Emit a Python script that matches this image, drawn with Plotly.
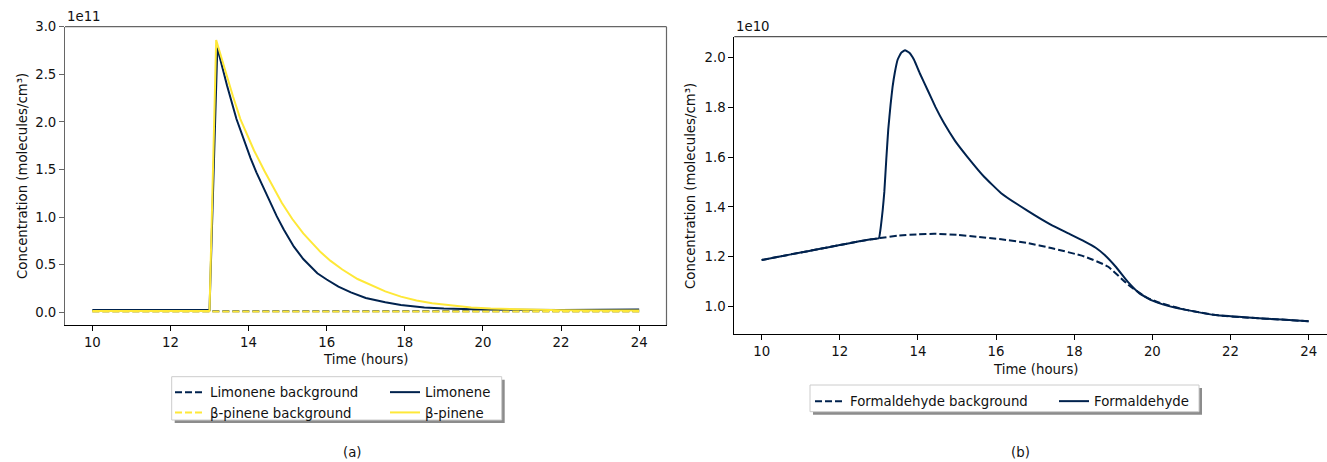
import plotly.graph_objects as go

# ---------------- data (panel a: units of 1e11 molecules/cm3) ----------------
time_bg_a = [10, 12, 14, 16, 18, 20, 22, 24]
limonene_bg = [0.012, 0.012, 0.012, 0.012, 0.012, 0.012, 0.012, 0.012]
bpinene_bg = [0.010, 0.010, 0.010, 0.010, 0.010, 0.010, 0.010, 0.010]

time_lim = [10, 13.0, 13.2, 13.45, 13.69, 13.9, 14.05, 14.2, 14.39, 14.55, 14.72, 14.9, 15.16,
            15.4, 15.76, 16.0, 16.3, 16.62, 17.0, 17.5, 17.9, 18.5, 19.0, 20.0, 21.0, 22.0,
            23.0, 24.0]
limonene = [0.025, 0.025, 2.78, 2.38, 2.03, 1.78, 1.62, 1.47, 1.30, 1.16, 1.01, 0.87, 0.69,
            0.56, 0.41, 0.345, 0.27, 0.21, 0.15, 0.105, 0.078, 0.052, 0.041, 0.03, 0.026, 0.025,
            0.027, 0.03]

time_bpi = [10, 13.0, 13.17, 13.4, 13.6, 13.79, 14.0, 14.14, 14.4, 14.61, 14.85, 15.12, 15.4,
            15.6, 15.85, 16.1, 16.4, 16.79, 17.1, 17.5, 17.9, 18.3, 18.7, 19.2, 19.7, 20.2,
            21.0, 22.0, 23.0, 24.0]
bpinene = [0.015, 0.015, 2.86, 2.53, 2.27, 2.03, 1.83, 1.70, 1.49, 1.33, 1.15, 0.98, 0.83,
           0.74, 0.63, 0.54, 0.45, 0.35, 0.29, 0.22, 0.165, 0.125, 0.095, 0.07, 0.052, 0.04,
           0.03, 0.022, 0.02, 0.02]

# ---------------- data (panel b: units of 1e10 molecules/cm3) ----------------
time_hcho_bg = [10, 10.5, 11, 11.5, 12, 12.5, 13.03, 13.5, 14, 14.42, 15, 15.5, 16.13,
                16.8, 17.41, 18.26, 18.86, 19.38, 19.86, 20.2, 20.83, 21.68, 22.54, 23.3, 24.0]
hcho_bg = [1.187, 1.202, 1.217, 1.232, 1.247, 1.262, 1.275, 1.285, 1.290, 1.292, 1.288, 1.280, 1.270,
           1.255, 1.235, 1.201, 1.161, 1.088, 1.036, 1.015, 0.988, 0.965, 0.955, 0.948, 0.941]

time_hcho = [10, 10.5, 11, 11.5, 12, 12.5, 12.8, 13.0, 13.05, 13.1, 13.14, 13.19, 13.24, 13.3,
             13.35, 13.41, 13.48, 13.57, 13.67, 13.78, 13.9, 14.05, 14.25, 14.45, 14.67,
             14.95, 15.27, 15.7, 16.13, 16.8, 17.41, 17.85, 18.26, 18.55, 18.78, 19.08, 19.38,
             19.67, 19.97, 20.4, 20.83, 21.68, 22.54, 23.3, 24.0]
hcho = [1.187, 1.202, 1.217, 1.232, 1.247, 1.262, 1.270, 1.274, 1.32, 1.39, 1.46, 1.59, 1.71, 1.81,
        1.88, 1.94, 1.99, 2.018, 2.028, 2.018, 1.99, 1.935, 1.868, 1.80, 1.735,
        1.665, 1.60, 1.52, 1.455, 1.385, 1.328, 1.294, 1.262, 1.236, 1.207, 1.157, 1.098,
        1.053, 1.026, 1.003, 0.988, 0.965, 0.955, 0.948, 0.941]

x_ticks = [10, 12, 14, 16, 18, 20, 22, 24]
y_ticks_a = [0.0, 0.5, 1.0, 1.5, 2.0, 2.5, 3.0]
y_ticks_b = [1.0, 1.2, 1.4, 1.6, 1.8, 2.0]

NAVY = "#00224e"
YELLOW = "#fee838"
DASH = "7px,3px"
LW = 2.0
FONT = "DejaVu Sans"
FS = 13.3
W, H = 1327, 462


def px(x):
    return x / W


def py(y):
    return 1 - y / H


fig = go.Figure()

# panel (a)
fig.add_trace(go.Scatter(x=time_bg_a, y=limonene_bg, mode="lines", name="Limonene background",
                         line=dict(color=NAVY, width=LW, dash=DASH), xaxis="x", yaxis="y",
                         legend="legend"))
fig.add_trace(go.Scatter(x=time_lim, y=limonene, mode="lines", name="Limonene",
                         line=dict(color=NAVY, width=LW), xaxis="x", yaxis="y",
                         legend="legend2"))
fig.add_trace(go.Scatter(x=time_bg_a, y=bpinene_bg, mode="lines", name="β-pinene background",
                         line=dict(color=YELLOW, width=LW, dash=DASH), xaxis="x", yaxis="y",
                         legend="legend"))
fig.add_trace(go.Scatter(x=time_bpi, y=bpinene, mode="lines", name="β-pinene",
                         line=dict(color=YELLOW, width=LW), xaxis="x", yaxis="y",
                         legend="legend2"))

# panel (b)
fig.add_trace(go.Scatter(x=time_hcho_bg, y=hcho_bg, mode="lines", name="Formaldehyde background",
                         line=dict(color=NAVY, width=LW, dash=DASH, shape="spline", smoothing=0.5),
                         xaxis="x2", yaxis="y2", legend="legend3"))
fig.add_trace(go.Scatter(x=time_hcho, y=hcho, mode="lines", name="Formaldehyde",
                         line=dict(color=NAVY, width=LW, shape="spline", smoothing=0.3),
                         xaxis="x2", yaxis="y2", legend="legend4"))

tickfont = dict(family=FONT, size=FS, color="#111")
common_x = dict(tickmode="array", tickvals=x_ticks, ticks="outside", ticklen=5, tickwidth=1,
                showgrid=False, zeroline=False, showline=True, linewidth=1, tickfont=tickfont,
                tickformat="d", automargin=False)

fig.update_layout(
    width=W, height=H,
    margin=dict(l=0, r=0, t=0, b=0, pad=0),
    paper_bgcolor="white", plot_bgcolor="white",
    font=dict(family=FONT, size=FS, color="#111"),
    xaxis=dict(domain=[px(65), px(666.5)], range=[9.3, 24.7], anchor="y",
               linecolor="black", tickcolor="black", **common_x),
    yaxis=dict(domain=[py(325), py(26.7)], range=[-0.133, 3.0], anchor="x",
               tickmode="array", tickvals=y_ticks_a, tickformat=".1f", ticks="outside",
               ticklen=5, tickwidth=1, tickcolor="#666", showline=True, linecolor="#666",
               linewidth=1, showgrid=False, zeroline=False, tickfont=tickfont, automargin=False),
    xaxis2=dict(domain=[px(734.3), 1.0], range=[9.3, 24.47], anchor="y2",
                linecolor="black", tickcolor="black", **common_x),
    yaxis2=dict(domain=[py(334.3), py(36.7)], range=[0.889, 2.0826], anchor="x2",
                tickmode="array", tickvals=y_ticks_b, tickformat=".1f", ticks="outside",
                ticklen=5, tickwidth=1, tickcolor="black", showline=True, linecolor="black",
                linewidth=1, showgrid=False, zeroline=False, tickfont=tickfont, automargin=False),
    showlegend=True,
)

legend_common = dict(bgcolor="rgba(0,0,0,0)", borderwidth=0, font=dict(family=FONT, size=FS, color="#111"),
                     xanchor="left", yanchor="top", tracegroupgap=0, itemwidth=30)
fig.update_layout(
    legend=dict(x=px(170), y=py(377), orientation="v", **legend_common),
    legend2=dict(x=px(385), y=py(377), orientation="v", **legend_common),
    legend3=dict(x=px(810), y=py(386), orientation="v", **legend_common),
    legend4=dict(x=px(1054), y=py(386), orientation="v", **legend_common),
)

shapes = []
# extra spines (gray) like the reference
shapes.append(dict(type="line", xref="paper", yref="paper", x0=px(65), x1=px(666.5), y0=py(26.7), y1=py(26.7),
                   line=dict(color="#666", width=1.2)))
shapes.append(dict(type="line", xref="paper", yref="paper", x0=px(666.5), x1=px(666.5), y0=py(26.7), y1=py(325),
                   line=dict(color="#666", width=1.2)))
shapes.append(dict(type="line", xref="paper", yref="paper", x0=px(734.3), x1=1.0, y0=py(36.7), y1=py(36.7),
                   line=dict(color="#555", width=1.2)))
# legend boxes with shadow
for (x0, x1, y0, y1) in [(171.7, 501.7, 376.7, 420.0), (810.0, 1199.0, 385.0, 411.7)]:
    shapes.append(dict(type="rect", xref="paper", yref="paper", x0=px(x0 + 3), x1=px(x1 + 3),
                       y0=py(y1 + 3), y1=py(y0 + 3), line=dict(width=0), fillcolor="rgba(0,0,0,0.45)"))
    shapes.append(dict(type="rect", xref="paper", yref="paper", x0=px(x0), x1=px(x1),
                       y0=py(y1), y1=py(y0), line=dict(color="#cccccc", width=1), fillcolor="white"))
fig.update_layout(shapes=shapes)

ann = []
lab = dict(family=FONT, size=FS, color="#111")
ann.append(dict(text="1e11", x=px(65), y=py(16), xref="paper", yref="paper", xanchor="left", yanchor="middle",
                showarrow=False, font=lab))
ann.append(dict(text="1e10", x=px(734.3), y=py(27), xref="paper", yref="paper", xanchor="left", yanchor="middle",
                showarrow=False, font=lab))
ann.append(dict(text="Time (hours)", x=px(365.7), y=py(359), xref="paper", yref="paper", xanchor="center",
                yanchor="middle", showarrow=False, font=lab))
ann.append(dict(text="Time (hours)", x=px(1036), y=py(369), xref="paper", yref="paper", xanchor="center",
                yanchor="middle", showarrow=False, font=lab))
ann.append(dict(text="Concentration (molecules/cm³)", x=px(22), y=py(176), xref="paper", yref="paper",
                xanchor="center", yanchor="middle", textangle=-90, showarrow=False, font=lab))
ann.append(dict(text="Concentration (molecules/cm³)", x=px(690), y=py(186), xref="paper", yref="paper",
                xanchor="center", yanchor="middle", textangle=-90, showarrow=False, font=lab))
ann.append(dict(text="(a)", x=px(352), y=py(452), xref="paper", yref="paper", xanchor="center",
                yanchor="middle", showarrow=False, font=lab))
ann.append(dict(text="(b)", x=px(1021), y=py(452), xref="paper", yref="paper", xanchor="center",
                yanchor="middle", showarrow=False, font=lab))
fig.update_layout(annotations=ann)

fig.write_html("out.html",
               config={"displayModeBar": False},
               post_script="document.body.style.margin='0';document.body.style.padding='0';"
                           "document.body.style.overflow='hidden';")
